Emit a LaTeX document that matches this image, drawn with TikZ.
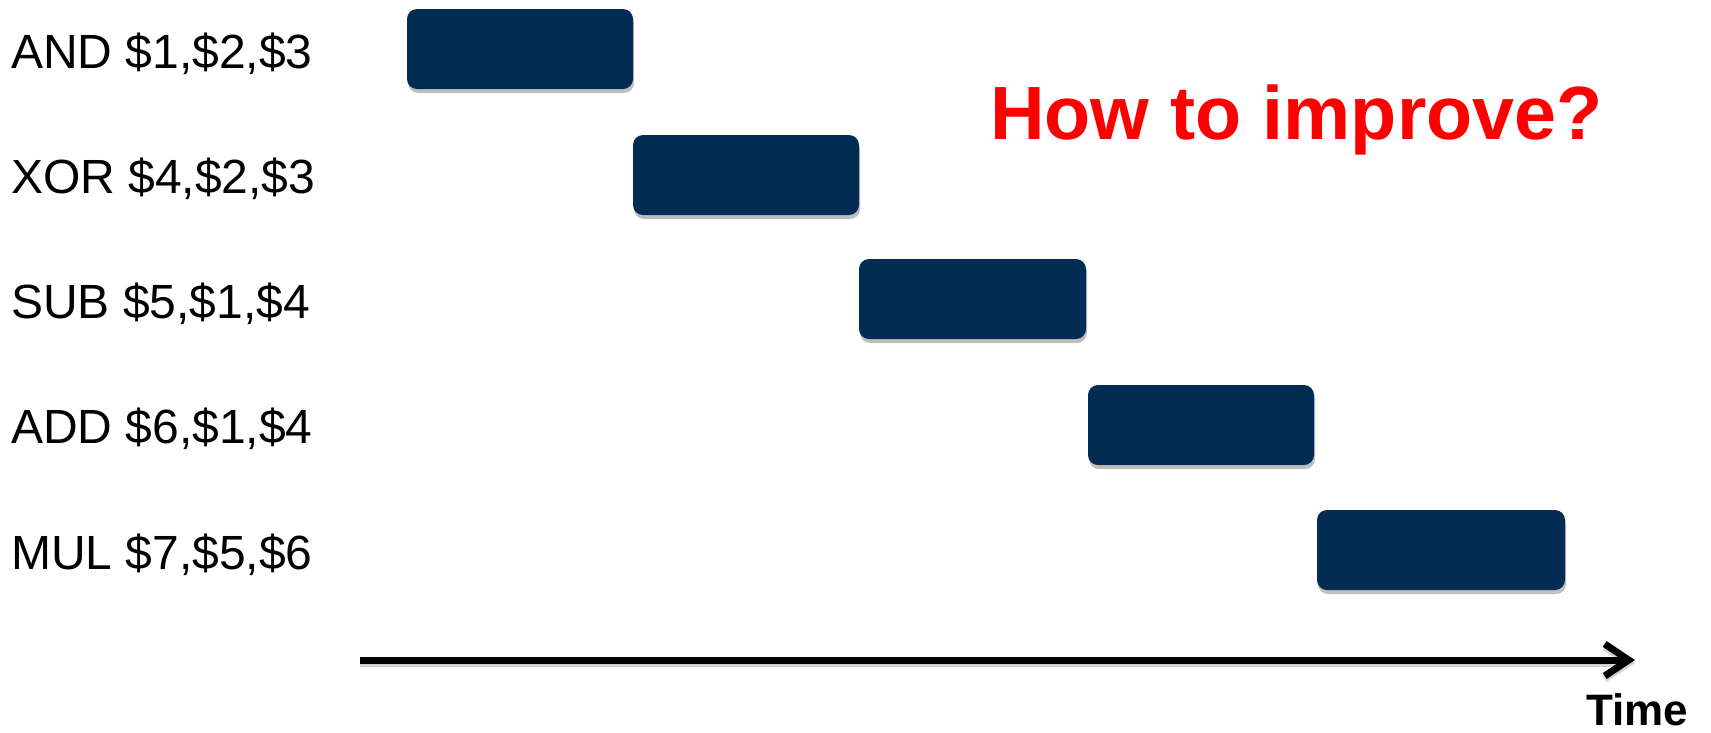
\documentclass[tikz,border=0pt]{standalone}
\usepackage{fontspec}
\setmainfont{Liberation Sans}
\usetikzlibrary{arrows.meta,shadows}
\definecolor{boxnavy}{RGB}{2,44,83}
\definecolor{askred}{RGB}{255,0,0}
\tikzset{
  stagebox/.style={fill=boxnavy, draw=none, rounded corners=10pt, minimum height=80pt, inner sep=0pt,
    drop shadow={shadow xshift=1pt, shadow yshift=-4pt, opacity=0.25, fill=black}},
  instr/.style={anchor=base west, inner sep=0pt, font=\fontsize{48}{56}\selectfont},
  timetip/.style={-{Straight Barb[length=24pt,width=32pt,line width=7pt]}},
}
\begin{document}
\begin{tikzpicture}[x=1pt,y=-1pt]
\useasboundingbox (0,0) rectangle (1711,732);
% instruction labels
\node[instr] (l1) at (11,68) {AND \$1,\$2,\$3};
\node[instr] (l2) at (11,193) {XOR \$4,\$2,\$3};
\node[instr] (l3) at (11,318) {SUB \$5,\$1,\$4};
\node[instr] (l4) at (11,443) {ADD \$6,\$1,\$4};
\node[instr] (l5) at (11,569) {MUL \$7,\$5,\$6};
% pipeline boxes
\node[stagebox, minimum width=226pt] (b1) at (520,49) {};
\node[stagebox, minimum width=226pt] (b2) at (746,175) {};
\node[stagebox, minimum width=227pt] (b3) at (972.5,299) {};
\node[stagebox, minimum width=226pt] (b4) at (1201,425) {};
\node[stagebox, minimum width=248pt] (b5) at (1441,550) {};
% question
\node[anchor=base west, inner sep=0pt, text=askred, font=\fontsize{75.5}{80}\selectfont\bfseries] (q) at (990,139) {How to improve?};
% time axis
\coordinate (tstart) at (360,660);
\coordinate (tend) at (1635,660);
\draw[line width=7pt, black!35, opacity=0.5, timetip] ([yshift=-3pt]tstart) -- ([yshift=-3pt]tend);
\draw[line width=7pt, timetip] (tstart) -- (tend);
\node[anchor=base west, inner sep=0pt, font=\fontsize{44}{50}\selectfont\bfseries] (time) at (1586,725) {Time};
\end{tikzpicture}
\end{document}
